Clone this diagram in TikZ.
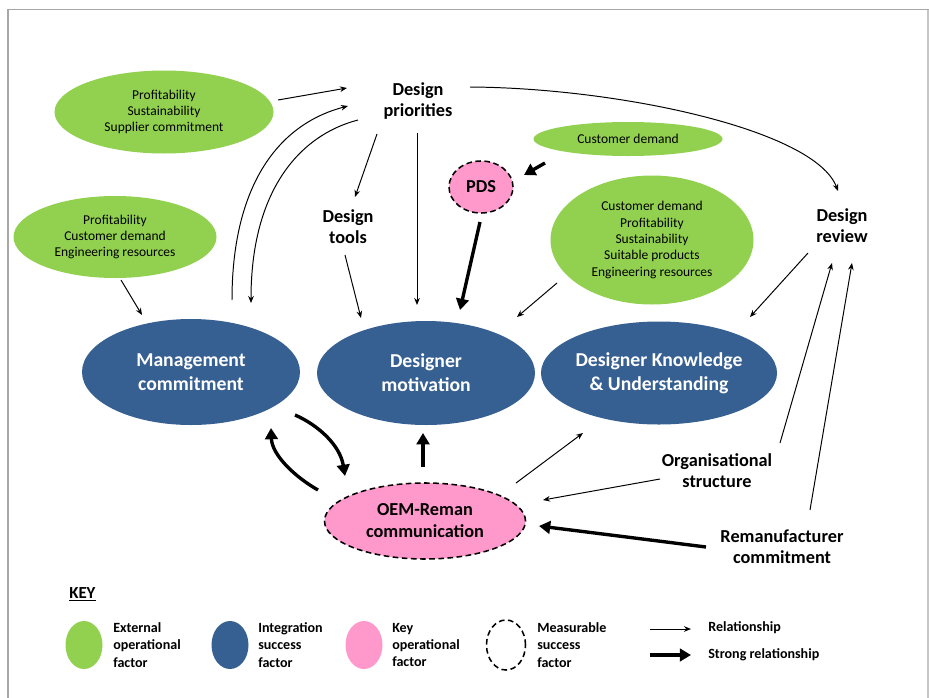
\documentclass[tikz,border=0pt]{standalone}
\usepackage{fontspec}
\setmainfont{Carlito}
\usetikzlibrary{shapes.geometric,arrows.meta,calc}

\definecolor{extgreen}{HTML}{92D050}
\definecolor{intblue}{HTML}{376092}
\definecolor{keypink}{HTML}{FF99CC}

\begin{document}
\begin{tikzpicture}[x=0.025cm,y=-0.025cm,
  factor/.style={ellipse, inner sep=0pt, align=center},
  size/.style 2 args={minimum width=#1*0.025cm, minimum height=#2*0.025cm},
  ext/.style={factor, fill=extgreen, font=\fontsize{9.6}{11.6}\selectfont},
  integ/.style={factor, fill=intblue, text=white, font=\fontsize{14}{17}\selectfont\bfseries},
  measured/.style={draw=black, line width=1.1pt, dash pattern=on 4pt off 2.5pt},
  keyop/.style={factor, fill=keypink, measured, font=\fontsize{13}{15.6}\selectfont\bfseries},
  label/.style={align=center, inner sep=0pt, font=\fontsize{13}{15}\selectfont\bfseries},
  keytext/.style={anchor=west, align=left, inner sep=0pt, font=\fontsize{10}{12.4}\selectfont\bfseries},
  rel/.style={-{Stealth[length=5pt,width=4pt]}, line width=0.7pt},
  strong/.style={-{Triangle[length=8pt,width=9pt]}, line width=2.4pt},
]
\useasboundingbox (0,0) rectangle (929,698);

% page frame
\draw[gray!85!black!60, line width=1.2pt] (8,698) -- (8,9.5) -- (929,9.5);
\draw[gray!45, line width=0.8pt] (928,9.5) -- (928,698);

% external operational factors
\node[ext, size={219}{83}] (g1) at (164,112) {Profitability\\Sustainability\\Supplier commitment};
\node[ext, size={203}{82}] (g2) at (115,237) {Profitability\\Customer demand\\Engineering resources};
\node[ext, size={189}{34}] (g3) at (628,139) {Customer demand};
\node[ext, size={203}{129}] (g4) at (652,240) {Customer demand\\Profitability\\Sustainability\\Suitable products\\Engineering resources};

% plain factors
\node[label] (dp) at (418,101) {Design\\priorities};
\node[label] (dt) at (348,227) {Design\\tools};
\node[label] (dr) at (842,226) {Design\\review};
\node[label] (org) at (717,471) {Organisational\\structure};
\node[label] (rem) at (782,547) {Remanufacturer\\commitment};

% key operational factors
\node[keyop, size={64}{52}] (pds) at (481,187) {PDS};
\node[keyop, size={201}{76}] (oem) at (425,521) {OEM-Reman\\communication};

% integration success factors
\node[integ, size={218}{106}] (mgmt) at (191,372) {Management\\commitment};
\node[integ, size={218}{104}] (dmot) at (426,373) {Designer\\motivation};
\node[integ, size={219}{103}] (dku) at (659,373) {Designer Knowledge\\\& Understanding};

% relationships
\draw[rel] ($(g1)+(114,-12)$) -- ($(dp)+(-71,-13)$);
\draw[rel] ($(mgmt)+(41,-72)$) .. controls +(0,-110) and +(-73,19) .. ($(dp)+(-70,5)$);
\draw[rel] ($(dp)+(-60,19)$) .. controls +(-58,15) and +(0,-113) .. ($(mgmt)+(60,-69)$);
\draw[rel] ($(dp)+(-41,33)$) -- ($(dt)+(7,-30)$);
\draw[rel] ($(dp)+(-1,32)$) -- ($(dmot)+(-9,-68)$);
\draw[rel] ($(dt)+(-3,28)$) -- ($(dmot)+(-65,-55)$);
\draw[rel] ($(g2)+(6,43)$) -- ($(mgmt)+(-49,-57)$);
\draw[rel] ($(g4)+(-95,43)$) -- ($(dmot)+(91,-56)$);
\draw[rel] ($(dp)+(52,-14)$) .. controls +(150,1) and +(-23,-61) .. ($(dr)+(-4,-35)$);
\draw[rel] ($(dr)+(-34,27)$) -- ($(dku)+(91,-56)$);
\draw[rel] ($(org)+(63,-28)$) -- ($(dr)+(-10,37)$);
\draw[rel] ($(rem)+(28,-37)$) -- ($(dr)+(10,37)$);
\draw[rel] ($(org)+(-57,8)$) -- ($(oem)+(118,-21)$);
\draw[rel] ($(oem)+(91,-38)$) -- ($(dku)+(-76,60)$);

% strong relationships
\draw[strong] ($(g3)+(-83,24)$) -- ($(pds)+(43,-12)$);
\draw[strong] ($(pds)+(-1,35)$) -- ($(dmot)+(34,-63)$);
\draw[strong] ($(rem)+(-76,0)$) -- ($(oem)+(114,5)$);
\draw[strong] ($(oem)+(-2,-54)$) -- ($(dmot)+(-3,60)$);
\draw[strong] ($(oem)+(-107,-31)$) .. controls +(-23,-13) and +(1,27) .. ($(mgmt)+(80,56)$);
\draw[strong] ($(mgmt)+(104,43)$) .. controls +(23,10) and +(-5,-31) .. ($(oem)+(-80,-45)$);

% key
\node[anchor=west, inner sep=0pt, font=\fontsize{12}{14}\selectfont\bfseries] (key) at (69,594) {\underline{KEY}};
\node[factor, fill=extgreen, size={37}{48}] (kg) at (84,645) {};
\node[keytext] (kgt) at (113,645) {External\\operational\\factor};
\node[factor, fill=intblue, size={37}{48}] (kb) at (230,645) {};
\node[keytext] (kbt) at (258,645) {Integration\\success\\factor};
\node[factor, fill=keypink, size={37}{48}] (kp) at (364,645) {};
\node[keytext] (kpt) at (392,645) {Key\\operational\\factor};
\node[factor, measured, size={39}{50}] (kd) at (506,645) {};
\node[keytext] (kdt) at (537,645) {Measurable\\success\\factor};
\coordinate (ra) at (650,629);
\coordinate (rb) at (691,629);
\coordinate (sa) at (650,655);
\coordinate (sb) at (691,655);
\draw[rel] (ra) -- (rb);
\draw[strong] (sa) -- (sb);
\node[keytext] (rt) at (708,628) {Relationship};
\node[keytext] (st) at (708,655) {Strong relationship};
\end{tikzpicture}
\end{document}
